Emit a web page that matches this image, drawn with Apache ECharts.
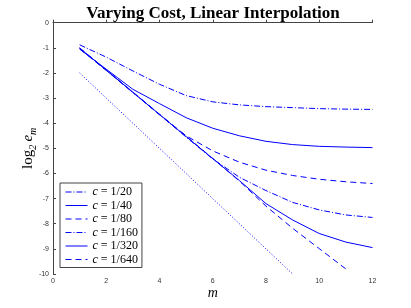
<!DOCTYPE html>
<html>
<head>
<meta charset="utf-8">
<script src="https://cdn.jsdelivr.net/npm/echarts@6/dist/echarts.min.js"></script>
<style>html,body{margin:0;padding:0;background:#fff;}#c{width:411px;height:308px;}</style>
</head>
<body>
<div id="c"></div>
<script>
const mValues = [1, 2, 3, 4, 5, 6, 7, 8, 9, 10, 11, 12];
const labels = ['1/20', '1/40', '1/80', '1/160', '1/320', '1/640'];
const c20  = [-0.88, -1.37, -1.92, -2.45, -2.90, -3.15, -3.27, -3.34, -3.38, -3.42, -3.44, -3.45];
const c40  = [-1.05, -1.85, -2.65, -3.22, -3.78, -4.20, -4.50, -4.72, -4.85, -4.92, -4.95, -4.97];
const c80  = [-1.04, -1.90, -2.78, -3.66, -4.50, -5.10, -5.55, -5.87, -6.08, -6.23, -6.33, -6.40];
const c160 = [-1.02, -1.89, -2.77, -3.66, -4.55, -5.42, -6.15, -6.68, -7.15, -7.45, -7.65, -7.75];
const c320 = [-1.01, -1.89, -2.77, -3.65, -4.53, -5.41, -6.28, -7.20, -7.85, -8.39, -8.73, -8.95];
const c640 = [-1.00, -1.88, -2.76, -3.64, -4.52, -5.40, -6.30, -7.30, -8.18, -8.99, -9.80];
const refM = [1, 9];
const refY = [-2, -10];

const BLUE = '#0000ff';
const DASHDOT = [6, 2, 1, 2];
const DASHED = [6, 4];
const styles = [DASHDOT, 'solid', DASHED, DASHDOT, 'solid', DASHED];
const seriesData = [c20, c40, c80, c160, c320, c640];

function pairs(xs, ys) { return ys.map((v, i) => [xs[i], v]); }

const series = seriesData.map((ys, k) => ({
  name: labels[k],
  type: 'line',
  data: pairs(mValues, ys),
  symbol: 'none',
  showSymbol: false,
  animation: false,
  color: BLUE,
  lineStyle: { color: BLUE, width: 1, type: styles[k] },
  itemStyle: { color: BLUE }
}));
series.push({
  name: 'ref',
  type: 'line',
  data: pairs(refM, refY),
  symbol: 'none',
  animation: false,
  lineStyle: { color: BLUE, width: 1, type: [1, 2] }
});

const legendData = labels.map((n, k) => ({
  name: n,
  itemStyle: { opacity: 0, borderWidth: 0, color: 'rgba(0,0,0,0)' },
  lineStyle: { color: BLUE, width: 1, type: styles[k], opacity: 1 }
}));

const chart = echarts.init(document.getElementById('c'), null, { renderer: 'canvas' });
chart.setOption({
  animation: false,
  backgroundColor: '#fff',
  color: [BLUE],
  title: {
    text: 'Varying Cost, Linear Interpolation',
    left: 208, top: 0, textAlign: 'center',
    textStyle: { fontFamily: 'Liberation Serif', fontWeight: 'bold', fontSize: 17, color: '#000' }
  },
  grid: { left: 53, right: 38.5, top: 22.7, bottom: 34, containLabel: false },
  xAxis: {
    type: 'value', min: 0, max: 12, interval: 2,
    name: 'm', nameLocation: 'middle', nameGap: 12, nameMoveOverlap: false,
    nameTextStyle: { fontFamily: 'Liberation Serif', fontStyle: 'italic', fontSize: 14, color: '#000' },
    axisLine: { show: true, lineStyle: { color: '#444', width: 1 } },
    axisTick: { show: true, inside: true, length: 3, lineStyle: { color: '#444' } },
    axisLabel: { fontFamily: 'Liberation Sans', fontSize: 7, color: '#333', margin: 4 },
    splitLine: { show: false }
  },
  yAxis: {
    type: 'value', min: -10, max: 0, interval: 1,
    name: '{l|log}{s|2} {e|e}{s|m}', nameLocation: 'middle', nameGap: 15, nameRotate: 90, nameMoveOverlap: false,
    nameTextStyle: {
      color: '#000',
      rich: {
        l: { fontFamily: 'Liberation Serif', fontSize: 15, lineHeight: 20, color: '#000' },
        e: { fontFamily: 'Liberation Serif', fontStyle: 'italic', fontSize: 15, lineHeight: 20, color: '#000' },
        s: { fontFamily: 'Liberation Serif', fontStyle: 'italic', fontSize: 10, lineHeight: 10, verticalAlign: 'bottom', color: '#000' }
      }
    },
    axisLine: { show: true, lineStyle: { color: '#444', width: 1 } },
    axisTick: { show: true, inside: true, length: 3, lineStyle: { color: '#444' } },
    axisLabel: { fontFamily: 'Liberation Sans', fontSize: 7, color: '#333', margin: 4 },
    splitLine: { show: false }
  },
  legend: {
    data: legendData,
    orient: 'vertical',
    left: 60, top: 183,
    padding: [3, 4, 2, 5],
    itemWidth: 22, itemHeight: 12, itemGap: 1.5,
    backgroundColor: '#fff',
    borderColor: '#444', borderWidth: 1, borderRadius: 0,
    formatter: function (n) { return '{i|c} = ' + n; },
    textStyle: {
      fontFamily: 'Liberation Serif', fontSize: 12, color: '#000', lineHeight: 12,
      rich: { i: { fontFamily: 'Liberation Serif', fontStyle: 'italic', fontSize: 12, color: '#000' } }
    }
  },
  series: series
});
</script>
</body>
</html>
